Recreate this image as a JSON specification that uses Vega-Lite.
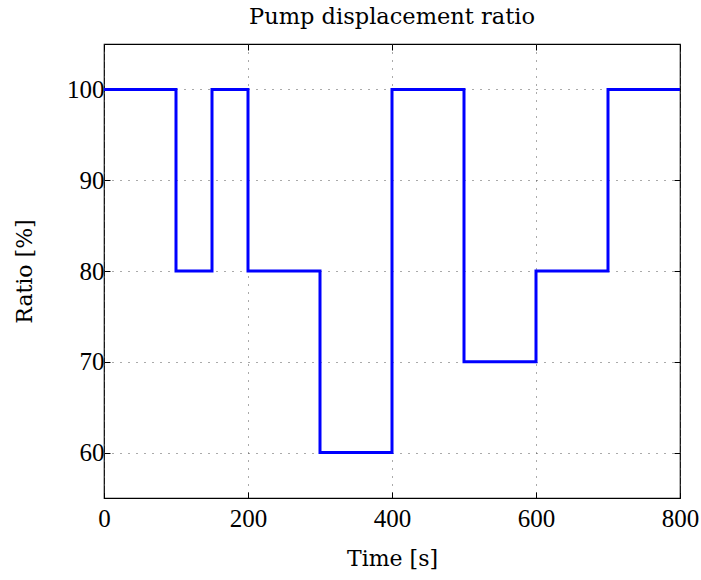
{
  "$schema": "https://vega.github.io/schema/vega-lite/v6.json",
  "autosize": "none",
  "width": 576,
  "height": 454,
  "padding": {"left": 104, "top": 44, "right": 21, "bottom": 82},
  "background": "white",
  "config": {
    "font": "Liberation Serif",
    "view": {"stroke": "black", "strokeWidth": 1.2},
    "axis": {
      "labelFont": "Liberation Serif",
      "titleFont": "DejaVu Serif",
      "labelFontSize": 25,
      "titleFontSize": 22,
      "labelColor": "black",
      "titleColor": "black",
      "titleFontWeight": "normal",
      "domain": false,
      "tickColor": "black",
      "tickSize": -6,
      "tickWidth": 1,
      "gridColor": "#555555",
      "gridDash": [1, 7],
      "gridWidth": 1,
      "gridOpacity": 1
    }
  },
  "title": {
    "text": "Pump displacement ratio",
    "font": "DejaVu Serif",
    "fontSize": 22.5,
    "fontWeight": "normal",
    "color": "black",
    "offset": 15
  },
  "data": {
    "values": [
      {"t": 0, "ratio": 100},
      {"t": 100, "ratio": 80},
      {"t": 150, "ratio": 100},
      {"t": 200, "ratio": 80},
      {"t": 300, "ratio": 60},
      {"t": 400, "ratio": 100},
      {"t": 500, "ratio": 70},
      {"t": 600, "ratio": 80},
      {"t": 700, "ratio": 100},
      {"t": 800, "ratio": 100}
    ]
  },
  "resolve": {"axis": {"x": "independent", "y": "independent"}},
  "layer": [
    {
      "mark": {"type": "line", "interpolate": "step-after", "color": "#0000ff", "strokeWidth": 3, "clip": true},
      "encoding": {
        "x": {
          "field": "t", "type": "quantitative",
          "scale": {"domain": [0, 800], "nice": false, "zero": false},
          "axis": {"title": "Time [s]", "values": [0, 200, 400, 600, 800], "labelPadding": 14, "titlePadding": 17, "labelFlush": false}
        },
        "y": {
          "field": "ratio", "type": "quantitative",
          "scale": {"domain": [55, 105], "nice": false, "zero": false},
          "axis": {"title": "Ratio [%]", "values": [60, 70, 80, 90, 100], "labelPadding": 6, "titlePadding": 30}
        }
      }
    },
    {
      "mark": {"type": "line", "opacity": 0},
      "encoding": {
        "x": {
          "field": "t", "type": "quantitative",
          "axis": {"orient": "top", "title": null, "labels": false, "grid": false, "values": [0, 200, 400, 600, 800]}
        },
        "y": {
          "field": "ratio", "type": "quantitative",
          "axis": {"orient": "right", "title": null, "labels": false, "grid": false, "values": [60, 70, 80, 90, 100]}
        }
      }
    }
  ]
}
